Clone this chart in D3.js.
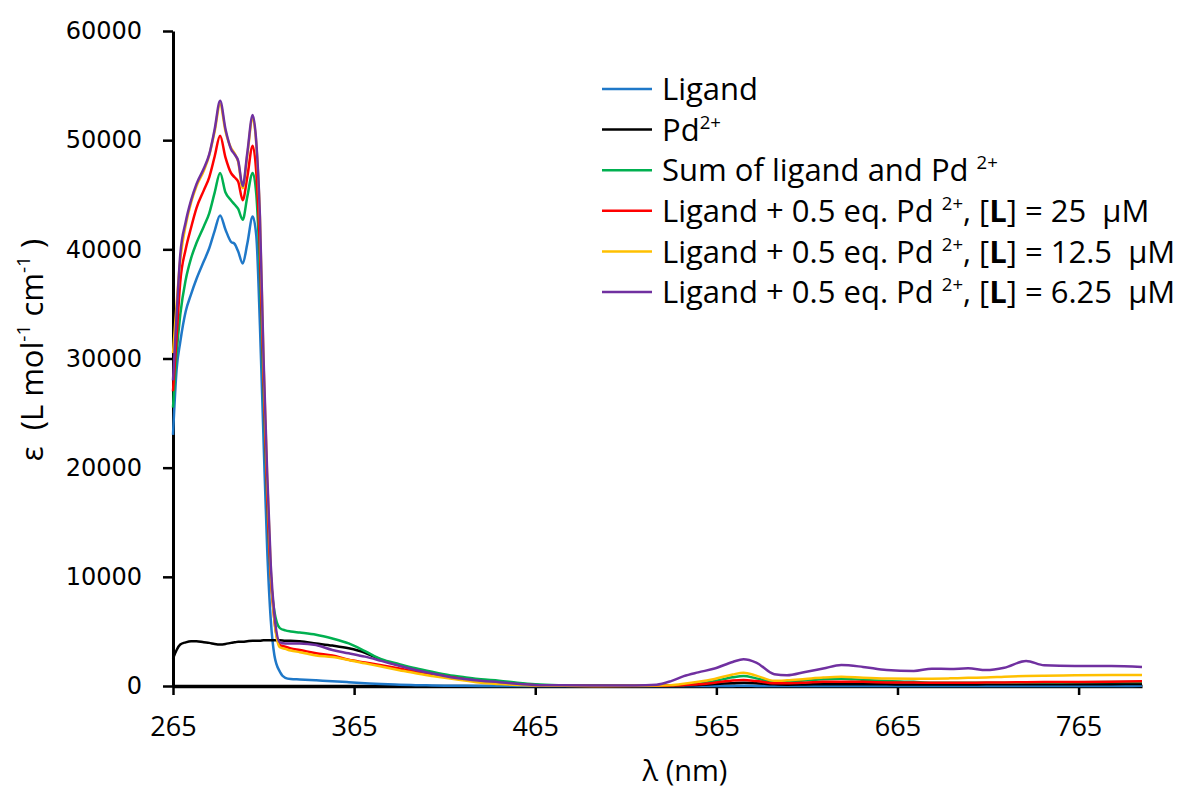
<!DOCTYPE html>
<html>
<head>
<meta charset="utf-8">
<script src="https://cdn.jsdelivr.net/npm/d3@7"></script>
<style>
  body { margin: 0; background: #fff; }
  svg { display: block; }
  text { font-family: "Open Sans", "Noto Sans", sans-serif; fill: #000; }
</style>
</head>
<body>
<svg id="chart" width="1185" height="796"></svg>
<script>
// wavelengths (nm) that the curves are sampled at
const wavelengths = [265, 267, 269, 272, 275, 278, 282, 285, 288, 291, 294, 297, 299, 301, 303.5, 306, 309, 311, 313, 315,
  317, 319, 321, 324, 327, 330, 335, 344, 353, 362, 371, 380, 390, 399, 408, 417, 426, 435, 445, 455,
  465, 480, 500, 520, 532, 540, 547, 555, 564, 574, 580, 587, 597, 604, 614, 624, 634, 646, 659, 674,
  684, 694, 704, 714, 724, 736, 746, 763, 783, 800];

const ligand = [23000, 29000, 31500, 34300, 35900, 37300, 38900, 40100, 41700, 43100, 41800, 40700, 40500, 39800, 38700, 40500, 43000, 41200, 33000, 22500,
  12500, 6000, 2800, 1300, 750, 640, 600, 520, 440, 350, 260, 180, 120, 80, 50, 30, 20, 10, 0, 0,
  0, 0, 0, 0, 0, 0, 0, 0, 0, 10, 20, 10, 0, 0, 0, 0, 0, 0, 0, 0,
  0, 0, 0, 0, 0, 0, 0, 0, 0, 30];

const palladium = [2500, 3300, 3800, 4000, 4100, 4100, 4000, 3950, 3850, 3800, 3850, 3950, 4000, 4050, 4050, 4100, 4150, 4150, 4150, 4200,
  4200, 4200, 4200, 4200, 4150, 4150, 4100, 3900, 3700, 3450, 3050, 2400, 1900, 1470, 1150, 850, 650, 490, 350, 200,
  100, 40, 20, 10, 20, 30, 60, 100, 180, 250, 300, 250, 150, 120, 140, 160, 170, 160, 150, 140,
  140, 140, 140, 150, 150, 160, 160, 170, 170, 180];

const sumLigPd = [25500, 30500, 34000, 37200, 39200, 40600, 42100, 43300, 45200, 47000, 45200, 44500, 44100, 43700, 42700, 44800, 47000, 45000, 38000, 27000,
  17000, 10000, 6800, 5300, 5100, 5000, 4900, 4700, 4350, 3900, 3200, 2450, 2000, 1620, 1300, 1010, 800, 610, 490, 300,
  150, 60, 20, 10, 20, 50, 100, 200, 450, 800, 920, 700, 380, 400, 500, 620, 670, 560, 460, 380,
  300, 300, 300, 300, 300, 310, 320, 340, 360, 370];

const mix25 = [27000, 32000, 37000, 40000, 42000, 43800, 45400, 46600, 48500, 50400, 48400, 47000, 46600, 46200, 44500, 46600, 49500, 47000, 40000, 28000,
  17500, 10000, 6000, 3750, 3600, 3450, 3300, 3000, 2800, 2400, 2150, 1900, 1600, 1310, 1070, 850, 620, 400, 260, 150,
  80, 30, 10, 10, 20, 40, 80, 150, 300, 500, 550, 450, 250, 250, 300, 380, 400, 380, 330, 310,
  300, 300, 300, 310, 330, 350, 360, 370, 400, 430];

const mix125 = [30500, 35000, 39000, 42200, 44300, 45800, 47200, 48600, 50800, 53300, 50800, 49300, 48800, 48000, 45600, 48600, 52000, 49600, 42800, 29500,
  19000, 10500, 6000, 3550, 3400, 3250, 3100, 2800, 2650, 2380, 2080, 1780, 1450, 1160, 920, 700, 500, 300, 180, 100,
  50, 20, 10, 20, 40, 80, 200, 380, 650, 1050, 1220, 950, 470, 520, 650, 780, 850, 750, 680, 660,
  670, 700, 750, 780, 850, 920, 950, 980, 1000, 1000];

const mix625 = [28000, 34000, 39500, 42500, 44500, 46000, 47400, 48700, 51000, 53600, 51000, 49200, 48700, 48100, 45800, 48800, 52300, 49800, 43000, 30000,
  19500, 11000, 6500, 4000, 3900, 3900, 3900, 3750, 3300, 3000, 2690, 2300, 1850, 1470, 1150, 850, 650, 490, 350, 200,
  100, 60, 50, 50, 120, 450, 900, 1250, 1600, 2200, 2450, 2150, 1080, 980, 1280, 1600, 1920, 1750, 1460, 1380,
  1590, 1560, 1620, 1460, 1680, 2290, 1890, 1830, 1830, 1740];

const xTicks = [265, 365, 465, 565, 665, 765];
const yTicks = [0, 10000, 20000, 30000, 40000, 50000, 60000];

const seriesNames = ["Ligand", "Pd2+", "Sum of ligand and Pd2+", "25", "12.5", "6.25"];
const seriesValues = [ligand, palladium, sumLigPd, mix25, mix125, mix625];
const colors = ["#1F78C8", "#000000", "#00B050", "#FF0000", "#FFC000", "#7030A0"];

const svg = d3.select("#chart");

const x = d3.scaleLinear().domain([265, 800]).range([173, 1142]);
const y = d3.scaleLinear().domain([0, 60000]).range([686, 31]);

// axes
const xAxis = svg.append("g")
  .attr("transform", `translate(0,${y(0)})`)
  .call(d3.axisBottom(x).tickValues(xTicks).tickFormat(d3.format("d")).tickSize(9).tickSizeOuter(0).tickPadding(22));
xAxis.select(".domain").attr("stroke-width", 3.5);
xAxis.selectAll(".tick line").attr("stroke-width", 2.5);
xAxis.selectAll("text").attr("font-size", 27);

const yAxis = svg.append("g")
  .attr("transform", `translate(${x(265)},0)`)
  .call(d3.axisLeft(y).tickValues(yTicks).tickFormat(d3.format("d")).tickSize(10).tickSizeOuter(0).tickPadding(21));
yAxis.select(".domain").attr("stroke-width", 3);
yAxis.selectAll(".tick line").attr("stroke-width", 2.5);
yAxis.selectAll("text").attr("font-size", 24).style("font-family", "'DejaVu Sans', Verdana, sans-serif");

// curves
const line = d3.line()
  .x((d, i) => x(wavelengths[i]))
  .y(d => y(d))
  .curve(d3.curveMonotoneX);

seriesValues.forEach((vals, i) => {
  svg.append("path")
    .datum(vals)
    .attr("fill", "none")
    .attr("stroke", colors[i])
    .attr("stroke-width", 2.5)
    .attr("stroke-linejoin", "round")
    .attr("d", line);
});

// legend
const legend = svg.append("g").attr("transform", "translate(602,89)");
const rowH = 40.6;
const fs = 31;

function addSup(t, s) {
  t.append("tspan").attr("baseline-shift", "super").attr("font-size", fs * 0.6).text(s);
}

seriesNames.forEach((name, i) => {
  const row = legend.append("g").attr("transform", `translate(0,${i * rowH})`);
  row.append("line").attr("x1", 0).attr("x2", 50).attr("y1", 0).attr("y2", 0)
    .attr("stroke", colors[i]).attr("stroke-width", 2.5);
  const t = row.append("text").attr("x", 60).attr("dy", "0.36em").attr("font-size", fs)
    .style("white-space", "pre");
  if (i === 0) {
    t.text("Ligand");
  } else if (i === 1) {
    t.append("tspan").text("Pd");
    addSup(t, "2+");
  } else if (i === 2) {
    t.append("tspan").text("Sum of ligand and Pd ");
    addSup(t, "2+");
  } else {
    t.append("tspan").text("Ligand + 0.5 eq. Pd ");
    addSup(t, "2+");
    t.append("tspan").text(", [");
    t.append("tspan").attr("font-weight", "bold").text("L");
    t.append("tspan").text("] = " + name + "  \u03BCM");
  }
});

// axis titles
svg.append("text")
  .attr("x", 685).attr("y", 781)
  .attr("text-anchor", "middle")
  .attr("font-size", 29)
  .text("\u03BB (nm)");

const yt = svg.append("text")
  .attr("transform", "translate(43,350) rotate(-90)")
  .attr("text-anchor", "middle")
  .attr("font-size", 31)
  .style("white-space", "pre");
yt.append("tspan").text("\u03B5  (L mol");
yt.append("tspan").attr("baseline-shift", "super").attr("font-size", 19).text("-1");
yt.append("tspan").text(" cm");
yt.append("tspan").attr("baseline-shift", "super").attr("font-size", 19).text("-1");
yt.append("tspan").text(" )");
</script>
</body>
</html>
